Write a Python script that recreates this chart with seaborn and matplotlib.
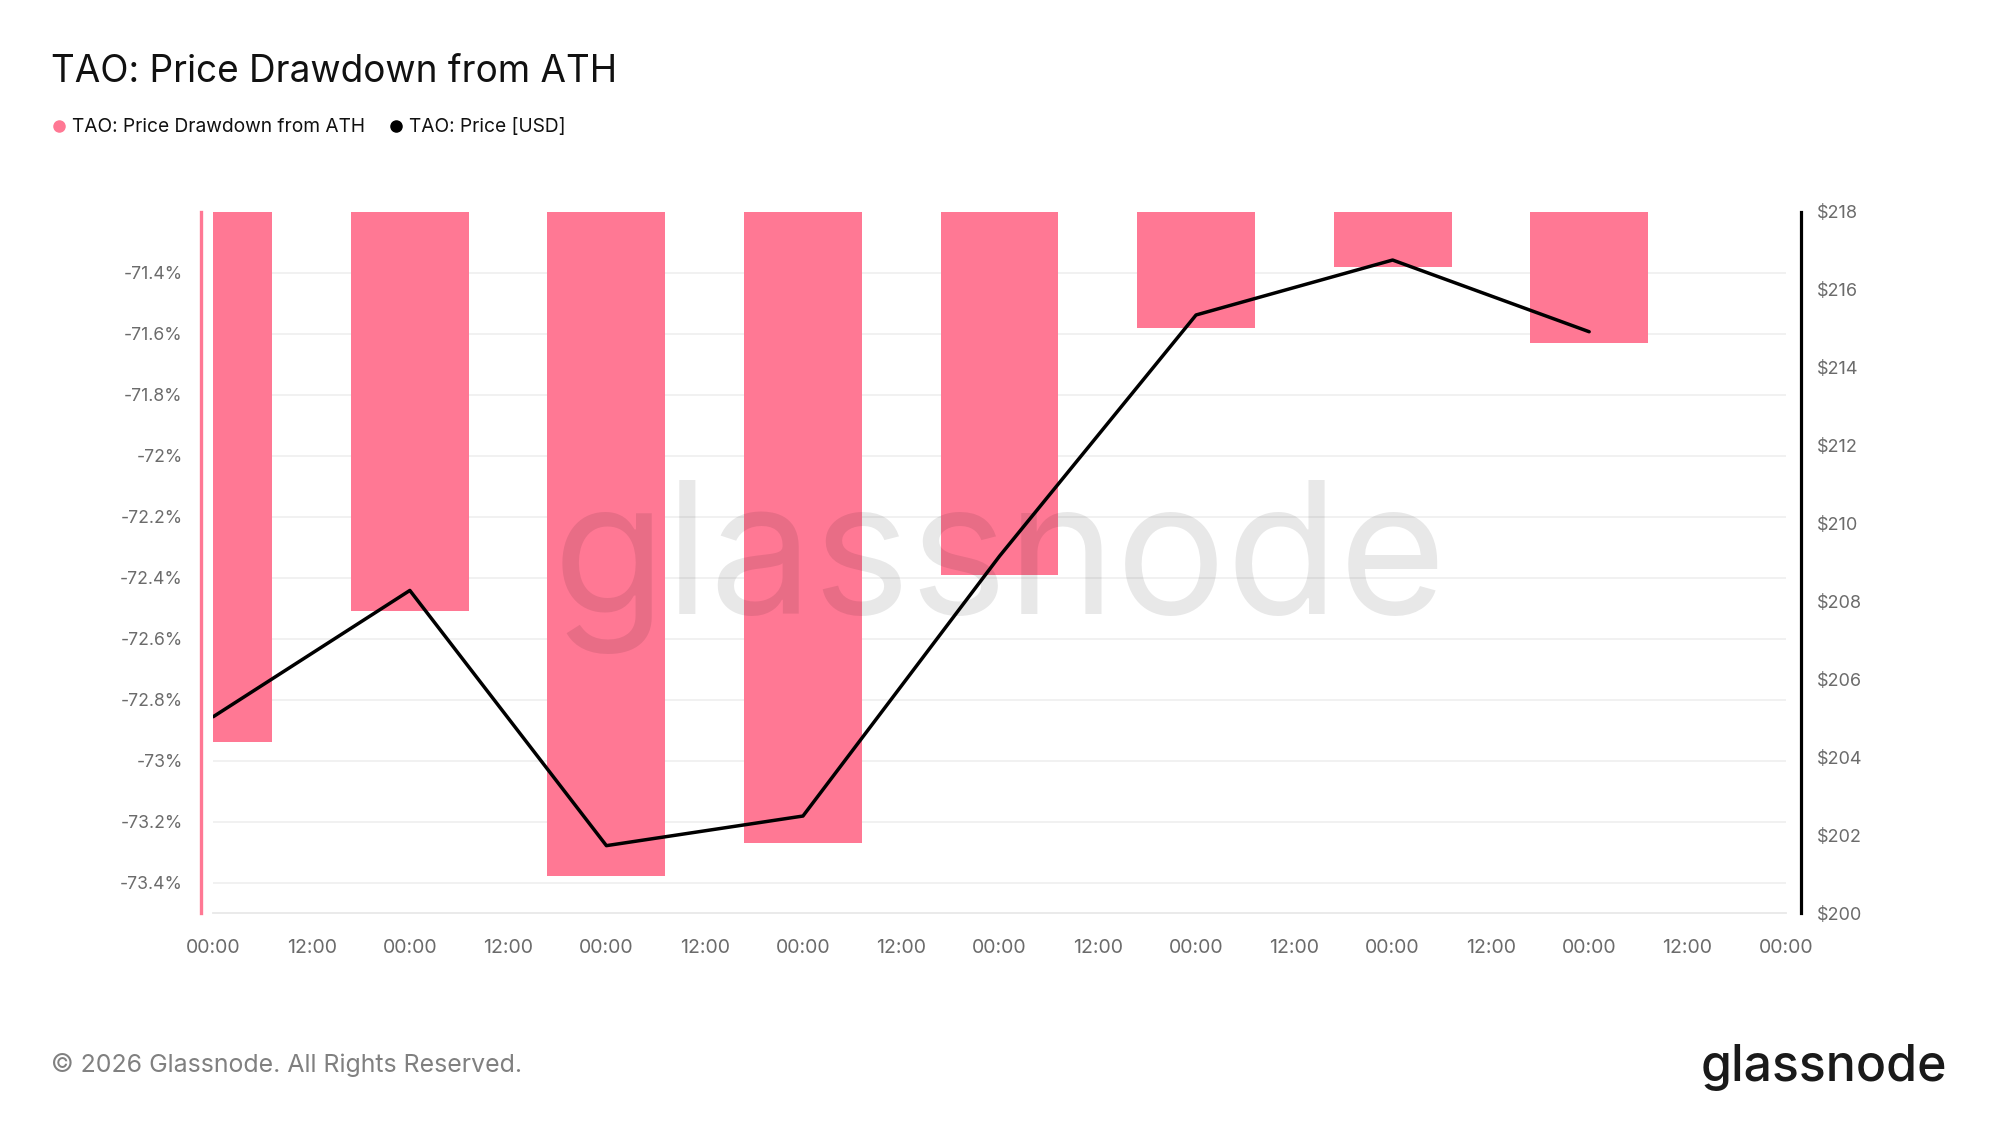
import matplotlib
matplotlib.use("Agg")
import matplotlib.pyplot as plt
from matplotlib.lines import Line2D
import seaborn as sns
import pandas as pd

# ---- data ----
days = [0, 1, 2, 3, 4, 5, 6, 7]
drawdown_pct = [-72.94, -72.51, -73.38, -73.27, -72.39, -71.58, -71.38, -71.63]
price_usd = [205.04, 208.28, 201.73, 202.49, 209.16, 215.35, 216.76, 214.92]

x_ticks = [i * 0.5 for i in range(17)]
x_tick_labels = ["00:00" if i % 2 == 0 else "12:00" for i in range(17)]
left_ticks = [-71.4, -71.6, -71.8, -72.0, -72.2, -72.4, -72.6, -72.8, -73.0, -73.2, -73.4]
left_tick_labels = ["-71.4%", "-71.6%", "-71.8%", "-72%", "-72.2%", "-72.4%",
                    "-72.6%", "-72.8%", "-73%", "-73.2%", "-73.4%"]
right_ticks = [200, 202, 204, 206, 208, 210, 212, 214, 216, 218]
right_tick_labels = ["$200", "$202", "$204", "$206", "$208", "$210", "$212", "$214", "$216", "$218"]

title = "TAO: Price Drawdown from ATH"
series_dd = "TAO: Price Drawdown from ATH"
series_price = "TAO: Price [USD]"

PINK = "#FF7894"
TICK_GRAY = "#6b6b6b"

sns.set_style("white")
plt.rcParams["font.family"] = ["Inter", "DejaVu Sans"]

df = pd.DataFrame({"day": days, "drawdown": drawdown_pct, "price": price_usd})

fig = plt.figure(figsize=(19.99, 11.25), dpi=100)
ax = fig.add_axes([0.1067, 0.1884, 0.7866, 0.6234])

sns.barplot(data=df, x="day", y="drawdown", native_scale=True, width=0.6,
            color=PINK, saturation=1, errorbar=None, linewidth=0, ax=ax)
ax.set_xlim(0, 8)
ax.set_ylim(-73.5, -71.2)
ax.set_xlabel("")
ax.set_ylabel("")

ax.set_yticks(left_ticks)
ax.set_yticklabels(left_tick_labels)
ax.set_xticks(x_ticks)
ax.set_xticklabels(x_tick_labels)
ax.tick_params(axis="y", length=0, pad=13.5, labelsize=12.7, labelcolor=TICK_GRAY)
ax.tick_params(axis="x", length=11.5, width=1.2, color="#e8e8e8", pad=7,
               labelsize=14, labelcolor=TICK_GRAY)
ax.set_axisbelow(True)
ax.yaxis.grid(True, color="#f0f0f0", linewidth=1.3)
ax.xaxis.grid(False)

for s in ["top", "right"]:
    ax.spines[s].set_visible(False)
ax.spines["left"].set_color(PINK)
ax.spines["left"].set_linewidth(2.4)
ax.spines["left"].set_position(("outward", 8.5))
ax.spines["bottom"].set_color("#e8e8e8")
ax.spines["bottom"].set_linewidth(1.3)

ax2 = ax.twinx()
sns.lineplot(data=df, x="day", y="price", color="black", linewidth=2.5, ax=ax2)
ax2.set_ylim(200, 218)
ax2.set_xlim(0, 8)
ax2.set_xlabel("")
ax2.set_ylabel("")
ax2.set_yticks(right_ticks)
ax2.set_yticklabels(right_tick_labels)
ax2.tick_params(axis="y", length=0, pad=11.5, labelsize=13, labelcolor=TICK_GRAY)
for s in ["top", "left", "bottom"]:
    ax2.spines[s].set_visible(False)
ax2.spines["right"].set_color("black")
ax2.spines["right"].set_linewidth(2.3)
ax2.spines["right"].set_position(("outward", 10.8))
ax2.grid(False)

# watermark
fig.text(0.4999, 0.4545, "glassnode", fontsize=132.5, color="black", alpha=0.09,
         ha="center", va="baseline", zorder=5)

# title
fig.text(0.0255, 0.9275, title, fontsize=26.6, color="#111111", ha="left", va="baseline")

# legend
handles = [
    Line2D([], [], marker="o", linestyle="", color=PINK, markersize=8),
    Line2D([], [], marker="o", linestyle="", color="black", markersize=8),
]
fig.legend(handles, [series_dd, series_price], loc="center left",
           bbox_to_anchor=(0.0267, 0.8867), ncol=2, frameon=False,
           fontsize=13.8, handlelength=0.55, handletextpad=0.42, columnspacing=1.35,
           borderpad=0, borderaxespad=0, labelcolor="#111111")

# footer
fig.text(0.0255, 0.0536, "© 2026 Glassnode. All Rights Reserved.", fontsize=17.9,
         color="#808080", ha="left", va="center")
fig.text(0.974, 0.0391, "glassnode", fontsize=36, color="#1a1a1a", fontweight="medium",
         ha="right", va="baseline")

fig.savefig("out.png", dpi=100)
